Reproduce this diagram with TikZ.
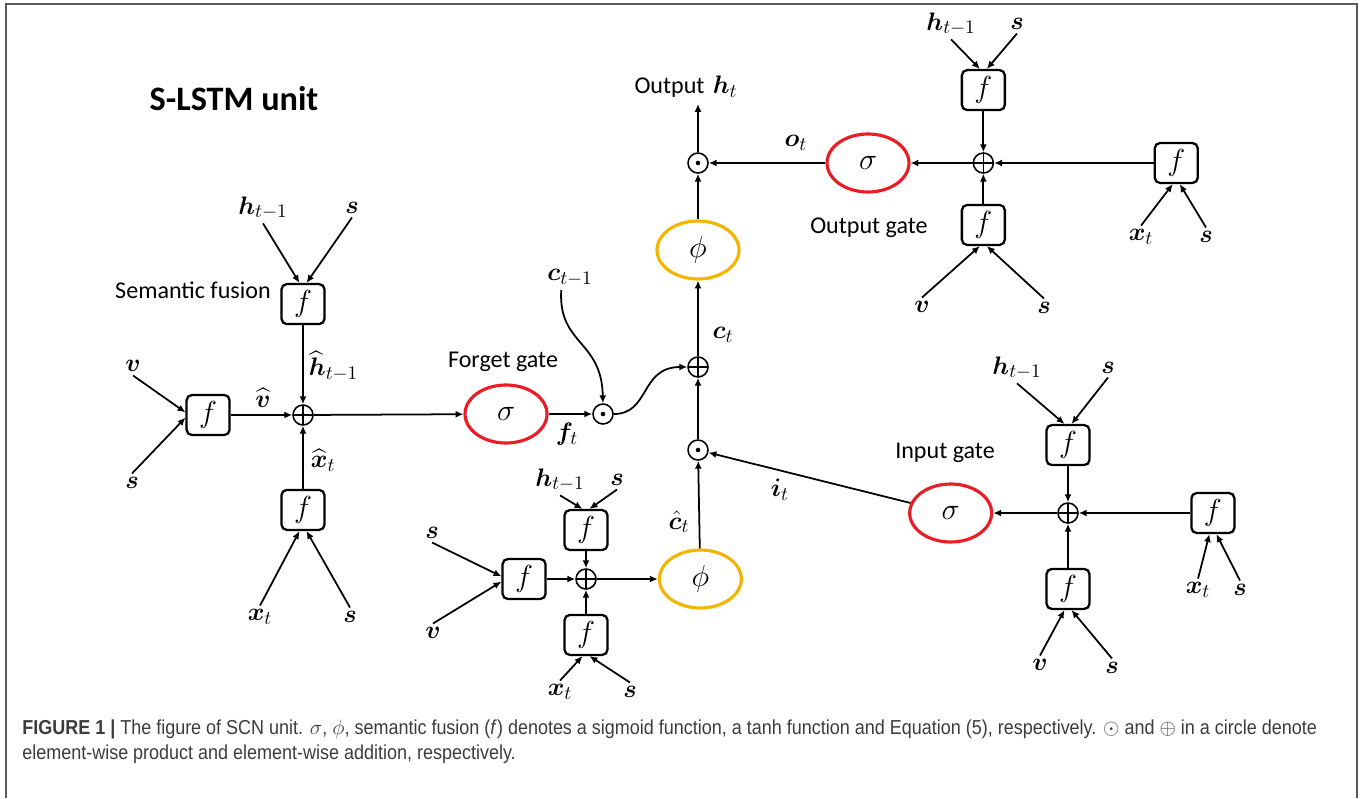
\documentclass[tikz,border=0pt]{standalone}
\usepackage{amsmath,bm}
\usepackage{fontspec}
\newfontfamily\calfont{Carlito}
\newfontfamily\capfont[FakeStretch=0.89]{Liberation Sans}
\usetikzlibrary{arrows.meta, positioning, shapes.geometric}

\definecolor{gatered}{RGB}{235,28,36}
\definecolor{tanhgold}{RGB}{245,180,0}
\definecolor{framegray}{RGB}{90,90,90}
\definecolor{capgray}{RGB}{60,60,60}
\newcommand{\mathsz}{\fontsize{15.5}{18}\selectfont}
\newcommand{\opsz}{\fontsize{17.28}{20}\selectfont}
\newcommand{\gatesz}{\calfont\fontsize{13.7}{16}\selectfont}

\begin{document}
\begin{tikzpicture}[
    x=0.02cm, y=-0.02cm,
    fbox/.style={draw, line width=1.3pt, rounded corners=3pt, minimum width=0.86cm, minimum height=0.8cm, inner sep=0pt, font=\opsz},
    sig/.style={ellipse, draw=gatered, line width=1.8pt, minimum width=1.64cm, minimum height=1.16cm, inner sep=0pt, font=\opsz},
    tanhop/.style={sig, draw=tanhgold},
    addop/.style={circle, draw, line width=0.9pt, minimum size=0.4cm, inner sep=0pt,
      path picture={\draw[line width=0.9pt] (path picture bounding box.north) -- (path picture bounding box.south)
        (path picture bounding box.west) -- (path picture bounding box.east);}},
    mulop/.style={circle, draw, line width=0.9pt, minimum size=0.4cm, inner sep=0pt,
      path picture={\fill (path picture bounding box.center) circle (1.3pt);}},
    inlbl/.style={font=\mathsz, inner sep=2pt},
    gate/.style={font=\gatesz},
    capstyle/.style={font=\capfont\fontsize{11.5}{14}\selectfont, text=capgray, inner sep=0pt, anchor=west},
    arr/.style={-{Latex[length=4.5pt,width=4pt]}, line width=1pt}
  ]
    \useasboundingbox (0,0) rectangle (1364,798);
    \draw[framegray, line width=1.2pt] (6,798) -- (6,4) -- (1357,4) -- (1357,798);

    \node[font=\calfont\bfseries\fontsize{19.5}{22}\selectfont] (title) at (234,99) {S-LSTM unit};

    % semantic fusion of the inputs
    \node[addop] (addA) at (303,415) {};
    \node[fbox, above=1.58cm of addA] (fAtop) {$f$};
    \node[fbox, left=1.23cm of addA] (fAleft) {$f$};
    \node[fbox, below=1.26cm of addA] (fAbot) {$f$};
    \node[gate] (semfus) at (193,290) {Semantic fusion};
    \node[inlbl] (hA) at (263,208) {$\bm{h}_{t-1}$};
    \node[inlbl] (sA) at (352,208) {$\bm{s}$};
    \node[inlbl] (vA) at (133,366) {$\bm{v}$};
    \node[inlbl] (sA2) at (132,483) {$\bm{s}$};
    \node[inlbl] (xA) at (260,617) {$\bm{x}_t$};
    \node[inlbl] (sA3) at (350,617) {$\bm{s}$};
    \node[inlbl, anchor=west] (hhatA) at (305,366) {$\widehat{\bm{h}}_{t-1}$};
    \node[inlbl] (vhatA) at (263,398) {$\widehat{\bm{v}}$};
    \node[inlbl, anchor=west] (xhatA) at (307,460) {$\widehat{\bm{x}}_t$};

    \draw[arr] (hA.south) -- ([xshift=-2pt]fAtop.north);
    \draw[arr] (sA.south) -- ([xshift=2pt]fAtop.north);
    \draw[arr] (vA.south) -- ([yshift=1.5pt]fAleft.west);
    \draw[arr] (sA2.north) -- ([yshift=-1.5pt]fAleft.west);
    \draw[arr] (xA.north) -- ([xshift=-2pt]fAbot.south);
    \draw[arr] (sA3.north) -- ([xshift=2pt]fAbot.south);
    \draw[arr] (fAtop) -- (addA);
    \draw[arr] (fAleft) -- (addA);
    \draw[arr] (fAbot) -- (addA);

    % forget gate and cell
    \node[sig] (sigF) at (506,414) {$\sigma$};
    \node[gate] (forget) at (503,362) {Forget gate};
    \node[mulop] (mulF) at (603,414) {};
    \node[inlbl] (fF) at (567,434) {$\bm{f}_t$};
    \node[inlbl] (cprev) at (570,278) {$\bm{c}_{t-1}$};
    \node[addop] (addC) at (698,367) {};
    \node[inlbl] (ct) at (723,335) {$\bm{c}_t$};
    \node[tanhop] (tanhC) at (698,250) {$\phi$};
    \node[mulop] (mulO) at (698,163) {};
    \node[font=\mathsz] (out) at (686,87) {{\gatesz Output} $\bm{h}_t$};
    \node[mulop] (mulI) at (698,450) {};

    \draw[arr] (addA) -- (sigF);
    \draw[arr] (sigF) -- (mulF);
    \draw[arr] ([xshift=-5pt]cprev.south) .. controls (558,345) and (602,340) .. (mulF);
    \draw[arr] (mulF) .. controls (650,414) and (640,367) .. (addC);
    \draw[arr] (addC) -- (tanhC);
    \draw[arr] (tanhC) -- (mulO);
    \draw[arr] (mulO) -- (mulO |- out.south);
    \draw[arr] (mulI) -- (addC);

    % output gate
    \node[sig] (sigO) at (868,163) {$\sigma$};
    \node[addop, right=1.24cm of sigO] (addO) {};
    \node[inlbl] (oO) at (796,143) {$\bm{o}_t$};
    \node[gate] (outgate) at (869,228) {Output gate};
    \node[fbox, above=0.82cm of addO] (fOtop) {$f$};
    \node[fbox, below=0.6cm of addO] (fObot) {$f$};
    \node[fbox, right=3.19cm of addO] (fOright) {$f$};
    \node[inlbl] (hO) at (951,24) {$\bm{h}_{t-1}$};
    \node[inlbl] (sO) at (1017,24) {$\bm{s}$};
    \node[inlbl] (vO) at (922,307) {$\bm{v}$};
    \node[inlbl] (sO2) at (1044,308) {$\bm{s}$};
    \node[inlbl] (xO) at (1141,237) {$\bm{x}_t$};
    \node[inlbl] (sO3) at (1206,237) {$\bm{s}$};

    \draw[arr] (hO.south) -- ([xshift=-2pt]fOtop.north);
    \draw[arr] (sO.south) -- ([xshift=2pt]fOtop.north);
    \draw[arr] (vO.north) -- ([xshift=-2pt]fObot.south);
    \draw[arr] (sO2.north) -- ([xshift=2pt]fObot.south);
    \draw[arr] (xO.north) -- ([xshift=-2pt]fOright.south);
    \draw[arr] (sO3.north) -- ([xshift=2pt]fOright.south);
    \draw[arr] (fOtop) -- (addO);
    \draw[arr] (fObot) -- (addO);
    \draw[arr] (fOright) -- (addO);
    \draw[arr] (addO) -- (sigO);
    \draw[arr] (sigO) -- (mulO);

    % input gate
    \node[addop] (addI) at (1068,513) {};
    \node[sig, left=1.28cm of addI] (sigI) {$\sigma$};
    \node[gate] (ingate) at (945,453) {Input gate};
    \node[fbox, above=0.72cm of addI] (fItop) {$f$};
    \node[fbox, below=0.88cm of addI] (fIbot) {$f$};
    \node[fbox, right=2.23cm of addI] (fIright) {$f$};
    \node[inlbl] (hI) at (1017,368) {$\bm{h}_{t-1}$};
    \node[inlbl] (sI) at (1108,368) {$\bm{s}$};
    \node[inlbl] (vI) at (1040,665) {$\bm{v}$};
    \node[inlbl] (sI2) at (1112,668) {$\bm{s}$};
    \node[inlbl] (xI) at (1198,590) {$\bm{x}_t$};
    \node[inlbl] (sI3) at (1240,590) {$\bm{s}$};
    \node[inlbl] (iI) at (780,490) {$\bm{i}_t$};

    \draw[arr] (hI.south) -- ([xshift=-2pt]fItop.north);
    \draw[arr] (sI.south) -- ([xshift=2pt]fItop.north);
    \draw[arr] (vI.north) -- ([xshift=-2pt]fIbot.south);
    \draw[arr] (sI2.north) -- ([xshift=2pt]fIbot.south);
    \draw[arr] (xI.north) -- ([xshift=-2pt]fIright.south);
    \draw[arr] (sI3.north) -- ([xshift=2pt]fIright.south);
    \draw[arr] (fItop) -- (addI);
    \draw[arr] (fIbot) -- (addI);
    \draw[arr] (fIright) -- (addI);
    \draw[arr] (addI) -- (sigI);
    \draw[arr] (sigI) -- (mulI);

    % candidate cell
    \node[addop] (addN) at (586,579) {};
    \node[tanhop, right=1.22cm of addN] (tanhN) {$\phi$};
    \node[fbox, above=0.34cm of addN] (fNtop) {$f$};
    \node[fbox, below=0.48cm of addN] (fNbot) {$f$};
    \node[fbox, left=0.57cm of addN] (fNleft) {$f$};
    \node[inlbl] (hN) at (560,480) {$\bm{h}_{t-1}$};
    \node[inlbl] (sN) at (617,480) {$\bm{s}$};
    \node[inlbl] (sN2) at (432,533) {$\bm{s}$};
    \node[inlbl] (vN) at (433,633) {$\bm{v}$};
    \node[inlbl] (xN) at (560,692) {$\bm{x}_t$};
    \node[inlbl] (sN3) at (630,692) {$\bm{s}$};
    \node[inlbl] (chat) at (679,522) {$\hat{\bm{c}}_t$};

    \draw[arr] (hN.south) -- ([xshift=-2pt]fNtop.north);
    \draw[arr] (sN.south) -- ([xshift=2pt]fNtop.north);
    \draw[arr] (sN2.south) -- ([yshift=1.5pt]fNleft.west);
    \draw[arr] (vN.north) -- ([yshift=-1.5pt]fNleft.west);
    \draw[arr] (xN.north) -- ([xshift=-2pt]fNbot.south);
    \draw[arr] (sN3.north) -- ([xshift=2pt]fNbot.south);
    \draw[arr] (fNtop) -- (addN);
    \draw[arr] (fNleft) -- (addN);
    \draw[arr] (fNbot) -- (addN);
    \draw[arr] (addN) -- (tanhN);
    \draw[arr] (tanhN) -- (mulI);

    \node[capstyle] (capA) at (22,729) {\textbf{FIGURE 1 |} The figure of SCN unit. $\sigma$, $\phi$, semantic fusion (\textit{f}) denotes a sigmoid function, a tanh function and Equation (5), respectively. $\odot$ and $\oplus$ in a circle denote};
    \node[capstyle] (capB) at (22,754) {element-wise product and element-wise addition, respectively.};
  \end{tikzpicture}
\end{document}
